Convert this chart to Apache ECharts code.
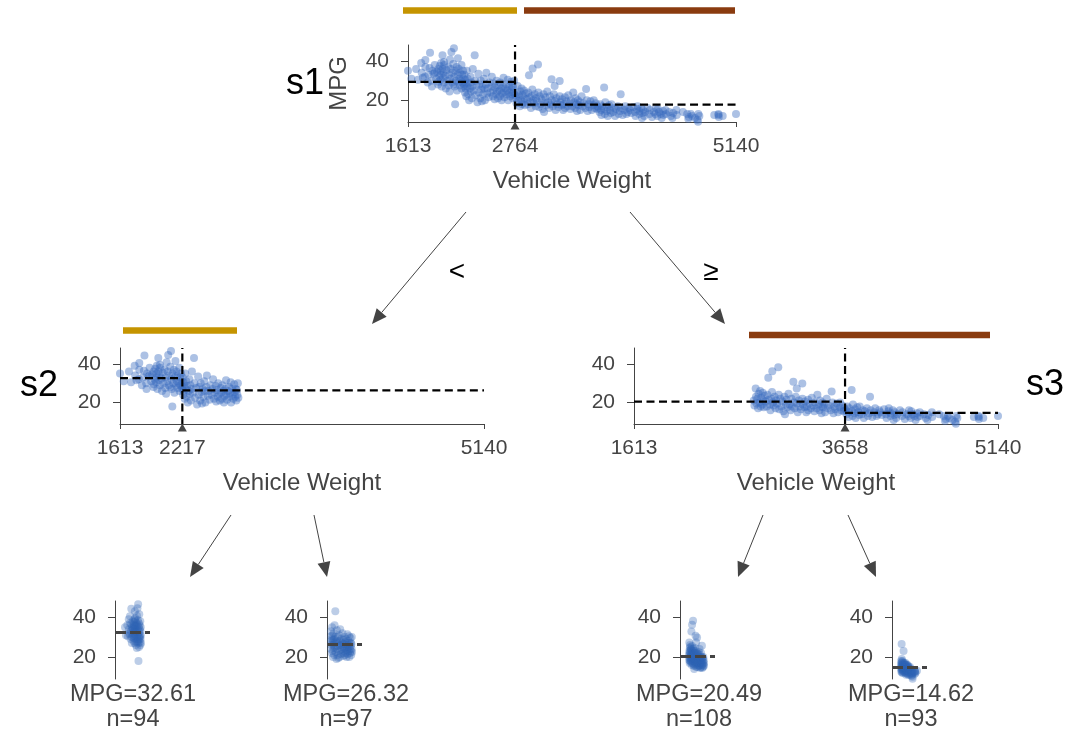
<!DOCTYPE html>
<html><head><meta charset="utf-8">
<script src="https://cdn.jsdelivr.net/npm/echarts@6/dist/echarts.min.js"></script>
<style>html,body{margin:0;padding:0;background:#fff}#c{width:1078px;height:733px}</style>
</head><body><div id="c"></div>
<script>
// ---------------- data ----------------
const weightMin = 1613, weightMax = 5140;
const mpgMin = 8.9, mpgMax = 48.2;
const yTicks = [20, 40];
const xAxisName = 'Vehicle Weight';
const yAxisName = 'MPG';
const nodeNames = ['s1', 's2', 's3'];
const splits = [2764, 2217, 3658];
const edgeLabels = ['<', '\u2265'];
const leafMeans = [32.61, 26.32, 20.49, 14.62];
const leafCounts = [94, 97, 108, 93];

// leaf 1: weight < 2217
const leafA = [[1613,35],[1649,31],[1700,36],[1720,30.5],[1755,39],[1760,34],[1773,31.5],[1795,32],[1800,37],[1825,29],[1834,33],[1845,36.5],[1850,44.3],[1867,30],[1875,35],[1890,33.5],[1900,38],[1915,31],[1925,34.5],[1937,28],[1940,36],[1950,32],[1955,37.5],[1963,30.5],[1965,35],[1968,33],[1970,39],[1975,27],[1984,43],[1985,36],[1990,31.5],[1995,34],[2000,29],[2003,38],[2015,32.5],[2020,26],[2025,35.5],[2035,30],[2045,37],[2050,27.5],[2055,33],[2065,40.8],[2070,31],[2075,36],[2080,44.6],[2085,29],[2090,34],[2100,38.5],[2107,46.6],[2110,32],[2115,27],[2120,18],[2123,35],[2130,30],[2135,37],[2140,25],[2145,33],[2150,41.5],[2155,29],[2160,36],[2164,31],[2170,27.5],[2171,34],[2180,30],[2188,38],[2190,26],[2195,33],[2200,29],[2205,35],[2210,31],[2215,27],[1800,40.5],[1900,34],[2000,39.5],[2100,28],[2060,24.5],[1940,29.5],[1870,27]];
// leaf 2: 2217 <= weight < 2764
const leafB = [[2219,28],[2220,33],[2225,24],[2228,30.5],[2230,26],[2234,29],[2240,22],[2245,35],[2250,27],[2255,31],[2260,23],[2265,28.5],[2270,20],[2278,26],[2285,32],[2290,24.5],[2295,29],[2300,21],[2305,27],[2310,36],[2320,25],[2330,43],[2335,30],[2340,22.5],[2350,27.5],[2360,19],[2370,33.5],[2375,24],[2380,28],[2390,21],[2395,30],[2400,25.5],[2408,19.5],[2415,27],[2420,23],[2430,31],[2434,26],[2440,20],[2450,28],[2455,34],[2464,23.5],[2470,26],[2480,21.5],[2490,29],[2500,24],[2510,27],[2515,32],[2525,22],[2530,25],[2540,28.5],[2545,20.5],[2550,26.5],[2560,23],[2565,30],[2572,24.5],[2580,21],[2590,27.5],[2595,25],[2600,22],[2605,29],[2615,26],[2620,20],[2625,23.5],[2635,27],[2640,31.5],[2643,24],[2650,21.5],[2660,26],[2670,28],[2672,23],[2680,25],[2690,20],[2700,27],[2705,24],[2711,22],[2720,29.5],[2725,25.5],[2730,23],[2740,21],[2745,26.5],[2750,24],[2755,30],[2760,22.5],[2735,27],[2685,30.5]];
// leaf 3: 2764 <= weight < 3658
const leafC = [[2774,21],[2780,18.5],[2792,27.3],[2795,23],[2800,19.5],[2808,22],[2815,17],[2820,24.5],[2830,20],[2835,26],[2840,18],[2845,22.5],[2855,19],[2860,25],[2865,21],[2870,17.5],[2880,23.5],[2890,20.5],[2900,18],[2905,24],[2914,32.8],[2920,21.5],[2930,19],[2935,16],[2945,22],[2953,36.2],[2950,25.5],[2960,20],[2965,18.5],[2975,23],[2985,17],[2990,21],[3000,19.5],[3011,38.2],[3015,24],[3020,16.5],[3030,22],[3040,18],[3050,20.5],[3060,15.5],[3070,23],[3076,14],[3085,19],[3090,21.5],[3100,17.5],[3110,24.5],[3120,19],[3130,16],[3139,22],[3145,18],[3157,30.7],[3160,20],[3170,17],[3180,23],[3190,27.3],[3193,19.5],[3200,15],[3210,21],[3221,18],[3230,16.5],[3244,29.8],[3245,22],[3250,19],[3265,17.5],[3270,20.5],[3282,15],[3288,18],[3300,21.5],[3302,16],[3315,19.5],[3329,17],[3336,22.5],[3350,18.5],[3360,15.5],[3365,20],[3380,17],[3390,24],[3400,19],[3410,16],[3415,21],[3425,18],[3430,14.5],[3440,20],[3445,17.5],[3459,19],[3465,15],[3480,22],[3490,17],[3500,18.5],[3520,16],[3528,25.7],[3535,20],[3545,14.5],[3555,18],[3563,16.5],[3575,19.5],[3590,15],[3605,17.5],[3610,20],[3620,16],[3632,18.5],[3645,15.5],[3650,17]];
// leaf 4: weight >= 3658
const leafD = [[3664,16],[3672,14],[3680,18],[3690,15],[3693,12.5],[3700,17],[3722,26.5],[3725,15.5],[3730,13],[3735,19],[3750,14.5],[3755,16.5],[3761,12],[3775,17.5],[3785,15],[3794,13.5],[3800,18],[3820,14],[3830,16],[3840,12],[3850,15.5],[3870,17],[3880,13],[3892,14.5],[3900,23],[3907,16],[3921,12.5],[3940,15],[3950,17],[3962,13],[3977,14],[3988,16],[4000,15],[4015,13.5],[4036,16.5],[4054,14],[4060,12],[4077,15.5],[4082,17],[4098,13],[4100,14.5],[4120,16],[4129,11],[4135,13.5],[4140,15],[4154,12],[4165,14],[4190,16],[4209,13],[4215,15],[4237,11.5],[4257,14],[4274,13],[4278,16],[4294,12],[4300,15.5],[4312,14],[4330,13],[4341,11],[4354,14.5],[4360,12.5],[4382,15],[4385,13],[4422,14],[4440,12],[4456,11],[4464,13.5],[4499,15],[4502,12.5],[4570,14],[4615,13],[4627,10.5],[4633,11.5],[4654,13],[4668,12],[4699,11],[4724,10],[4732,9],[4735,13],[4746,12],[4906,12.5],[4951,12.5],[4952,13],[4955,11.5],[4997,12],[5140,13]];

// ---------------- layout / style ----------------
const FONT = '"Liberation Sans", Arial, Helvetica, sans-serif';
const TXT = '#444';
const PT_COLOR = '#3a6cbf';
const GOLD = '#c59400', BROWN = '#8a3b0f';
const nodeGrids = [
  {left: 408, top: 45, width: 328, height: 77},
  {left: 120, top: 348, width: 364, height: 76},
  {left: 634, top: 348, width: 364, height: 76}
];
const leafGrids = [115, 327, 680, 892].map(l => ({left: l, top: 601, width: 35, height: 78}));
const leafBand = [[10, 26], [4, 25], [9, 24], [9, 25]]; // pixel band of the jitter column inside each leaf
const barGrids = [
  {l: 403, r: 517, y: 10.5, c: GOLD, range: [weightMin, splits[0]]},
  {l: 524, r: 735, y: 10.5, c: BROWN, range: [splits[0], weightMax]},
  {l: 123, r: 237, y: 330.5, c: GOLD, range: [weightMin, splits[0]]},
  {l: 749, r: 990, y: 335, c: BROWN, range: [splits[0], weightMax]}
];

const wmean = (i, j) => (leafMeans[i]*leafCounts[i] + leafMeans[j]*leafCounts[j]) / (leafCounts[i] + leafCounts[j]);
const nodes = [
  {pts: leafA.concat(leafB, leafC, leafD), split: splits[0], mL: wmean(0,1), mR: wmean(2,3)},
  {pts: leafA.concat(leafB), split: splits[1], mL: leafMeans[0], mR: leafMeans[1]},
  {pts: leafC.concat(leafD), split: splits[2], mL: leafMeans[2], mR: leafMeans[3]}
];
const leaves = [leafA, leafB, leafC, leafD];
const plain = v => String(Math.round(v));

const grids = [], xAxes = [], yAxes = [], series = [];
const yAxisBase = (gi, withName) => ({
  gridIndex: gi, type: 'value', min: mpgMin, max: mpgMax,
  splitLine: {show: false},
  axisLine: {show: true, lineStyle: {color: TXT, width: 1}},
  axisTick: {show: true, length: 7, customValues: yTicks, lineStyle: {color: TXT}},
  axisLabel: {show: true, customValues: yTicks, fontSize: 21, color: TXT, margin: 19, fontFamily: FONT, formatter: plain},
  name: withName ? yAxisName : '', nameLocation: 'middle', nameGap: 57, nameRotate: 90,
  nameTextStyle: {fontSize: 24, color: TXT, fontFamily: FONT}
});

nodes.forEach((n, i) => {
  const gi = grids.length;
  grids.push(nodeGrids[i]);
  const ticks = [weightMin, n.split, weightMax];
  xAxes.push({
    gridIndex: gi, type: 'value', min: weightMin, max: weightMax,
    splitLine: {show: false},
    axisLine: {show: true, onZero: false, lineStyle: {color: TXT, width: 1}},
    axisTick: {show: true, length: 5, customValues: ticks, lineStyle: {color: TXT}},
    axisLabel: {show: true, customValues: ticks, fontSize: 21, color: TXT, margin: 14, fontFamily: FONT, formatter: plain},
    name: xAxisName, nameLocation: 'middle', nameGap: 47,
    nameTextStyle: {fontSize: 24, color: TXT, fontFamily: FONT}
  });
  yAxes.push(yAxisBase(gi, i === 0));
  series.push({type: 'scatter', xAxisIndex: gi, yAxisIndex: gi, data: n.pts, symbolSize: 8,
    itemStyle: {color: PT_COLOR, opacity: 0.42}, silent: true});
  const dash = {type: [8, 4.5], width: 2.2, color: '#000'};
  const seg = d => ({type: 'line', xAxisIndex: gi, yAxisIndex: gi, data: d, symbol: 'none',
    lineStyle: dash, z: 5, silent: true, animation: false});
  series.push(seg([[n.split, mpgMin], [n.split, mpgMax]]));
  series.push(seg([[weightMin, n.mL], [n.split, n.mL]]));
  series.push(seg([[n.split, n.mR], [weightMax, n.mR]]));
  series.push({type: 'scatter', xAxisIndex: gi, yAxisIndex: gi, data: [[n.split, mpgMin]],
    symbol: 'triangle', symbolSize: [9, 8], symbolOffset: [0, 3.5], clip: false, z: 6,
    itemStyle: {color: TXT, opacity: 1}, silent: true});
});

leaves.forEach((pts, k) => {
  const gi = grids.length;
  grids.push(leafGrids[k]);
  const ws = pts.map(p => p[0]);
  const lo = Math.min(...ws), hi = Math.max(...ws);
  const [b0, b1] = leafBand[k];
  const s = (hi - lo) / (b1 - b0);
  const xmin = lo - b0 * s;
  xAxes.push({gridIndex: gi, type: 'value', min: xmin, max: xmin + leafGrids[k].width * s, show: false});
  yAxes.push(yAxisBase(gi, false));
  series.push({type: 'scatter', xAxisIndex: gi, yAxisIndex: gi, data: pts, symbolSize: 8,
    itemStyle: {color: '#2e63b5', opacity: 0.32}, silent: true,
    markLine: {symbol: 'none', silent: true, animation: false, label: {show: false},
      lineStyle: {type: [11, 4], width: 3.2, color: '#444'},
      data: [{yAxis: leafMeans[k]}]}});
});

barGrids.forEach(b => {
  const gi = grids.length;
  grids.push({left: b.l, width: b.r - b.l, top: b.y - 1, height: 2});
  xAxes.push({gridIndex: gi, type: 'value', min: b.range[0], max: b.range[1], show: false});
  yAxes.push({gridIndex: gi, type: 'value', min: 0, max: 1, show: false});
  series.push({type: 'line', xAxisIndex: gi, yAxisIndex: gi, symbol: 'none', silent: true,
    data: [[b.range[0], 0.5], [b.range[1], 0.5]], lineStyle: {color: b.c, width: 6.5, cap: 'butt'}});
});

// ---------------- decorations ----------------
const graphic = [];
const arrows = [
  [[466, 212], [372, 324]], [[630, 212], [725, 324]],
  [[231, 515], [190, 577]], [[314, 515], [327, 577]],
  [[763, 515], [738, 577]], [[848, 515], [876, 577]]
];
arrows.forEach(([a, b]) => {
  const dx = b[0] - a[0], dy = b[1] - a[1], L = Math.hypot(dx, dy);
  const ux = dx / L, uy = dy / L, hl = 15, hw = 6.5;
  const bx = b[0] - ux * hl, by = b[1] - uy * hl;
  graphic.push({type: 'line', silent: true, shape: {x1: a[0], y1: a[1], x2: bx, y2: by},
    style: {stroke: '#444', lineWidth: 1}});
  graphic.push({type: 'polygon', silent: true, shape: {points: [b, [bx - uy * hw, by + ux * hw], [bx + uy * hw, by - ux * hw]]},
    style: {fill: '#444'}});
});
const addText = (t, x, y, size, color) => graphic.push({type: 'text', x, y, silent: true,
  style: {text: t, fontSize: size, fontFamily: FONT, fill: color, align: 'center', verticalAlign: 'middle'}});
addText(nodeNames[0], 305, 84, 36, '#000');
addText(nodeNames[1], 39, 386, 36, '#000');
addText(nodeNames[2], 1045, 385, 36, '#000');
addText(edgeLabels[0], 457, 272, 28, '#000');
addText(edgeLabels[1], 711, 272, 28, '#000');
const leafCenters = [133, 346, 699, 911];
leafCenters.forEach((cx, k) => {
  addText(yAxisName + '=' + leafMeans[k].toFixed(2), cx, 695, 23.5, TXT);
  addText('n=' + leafCounts[k], cx, 720, 23.5, TXT);
});

const chart = echarts.init(document.getElementById('c'), null, {renderer: 'canvas'});
chart.setOption({
  animation: false,
  backgroundColor: '#fff',
  textStyle: {fontFamily: FONT},
  grid: grids, xAxis: xAxes, yAxis: yAxes, series, graphic
});
</script></body></html>
